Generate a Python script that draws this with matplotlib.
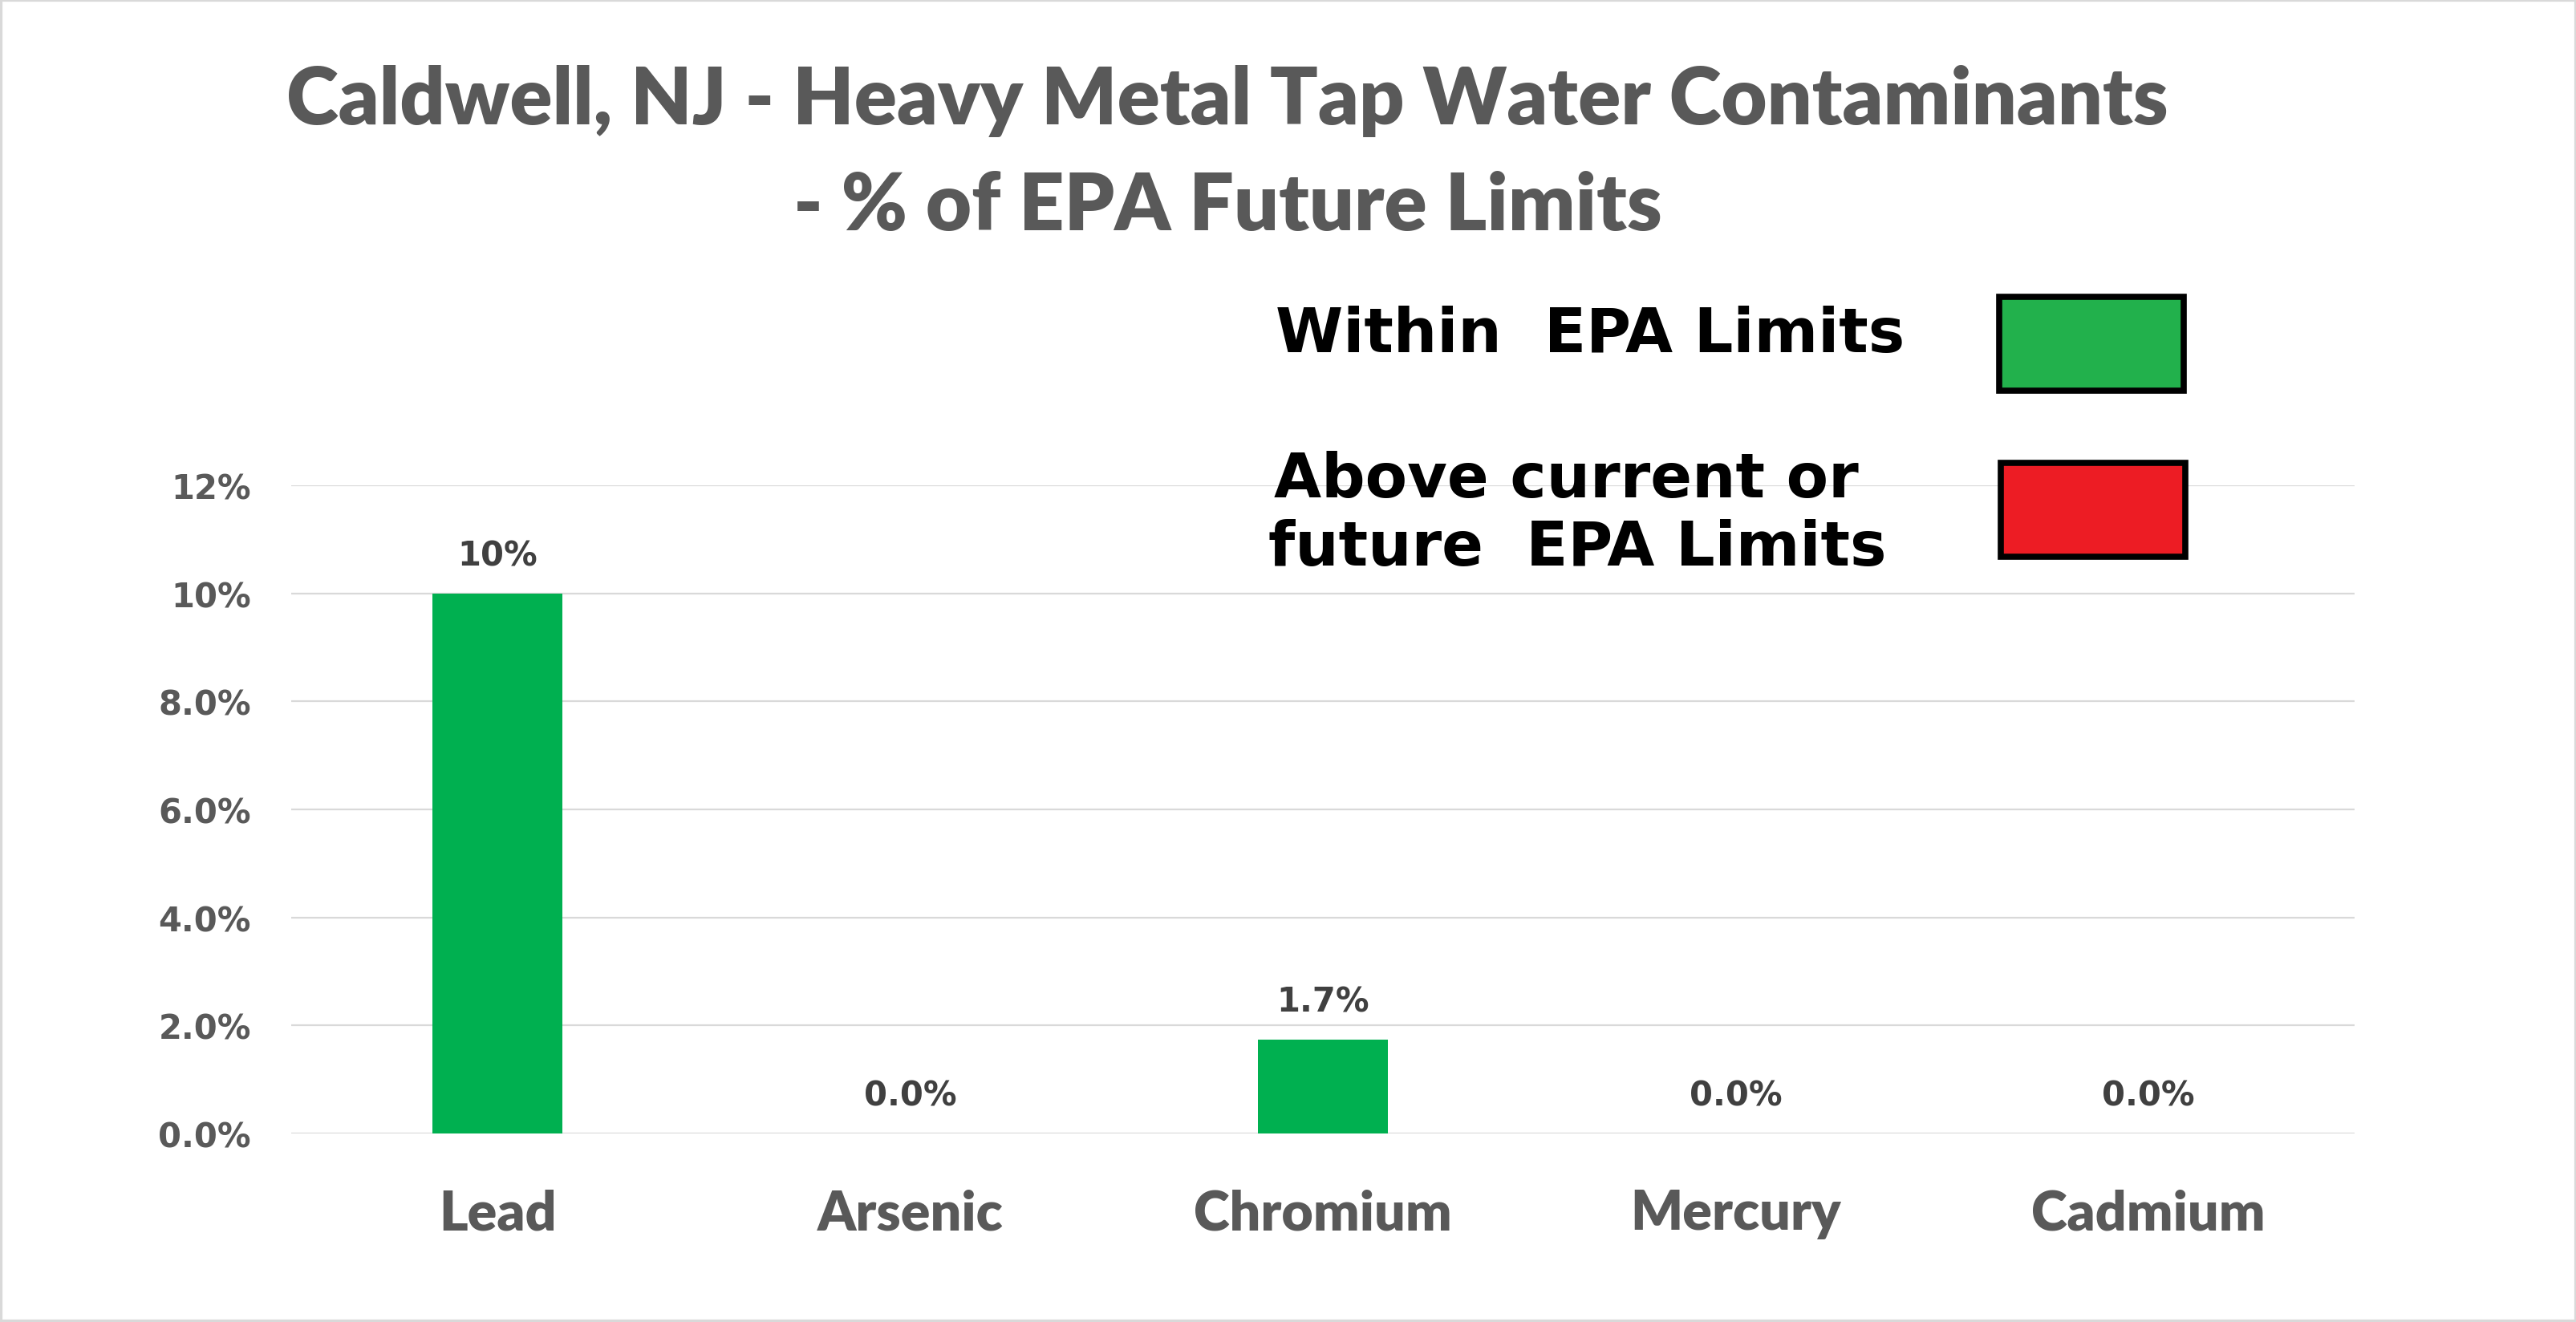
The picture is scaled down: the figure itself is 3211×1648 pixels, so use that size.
import matplotlib.pyplot as plt
from matplotlib.patches import Rectangle

# données
metals = ['Lead', 'Arsenic', 'Chromium', 'Mercury', 'Cadmium']
pct_of_limit = [0.100, 0.0, 0.0174, 0.0, 0.0]
bar_labels = ['10%', '0.0%', '1.7%', '0.0%', '0.0%']
y_ticks = [0.0, 0.02, 0.04, 0.06, 0.08, 0.10, 0.12]
y_tick_labels = ['0.0%', '2.0%', '4.0%', '6.0%', '8.0%', '10%', '12%']

W, H = 3212, 1649
fig = plt.figure(figsize=(W / 100, H / 100), dpi=100)
fig.patch.set_facecolor('white')

def fx(px):
    return px / W

def fy(py):
    return 1 - py / H

ax = fig.add_axes([fx(363), fy(1414), fx(2935) - fx(363), fy(606) - fy(1414)])

green = '#00B050'
grid_col = '#D9D9D9'
text_grey = '#595959'

ax.bar(range(len(metals)), pct_of_limit, width=0.315, color=green, zorder=3)
for i, (v, lab) in enumerate(zip(pct_of_limit, bar_labels)):
    ax.annotate(lab, (i, v), xytext=(0, 25.5), textcoords='offset points',
                ha='center', va='baseline', fontsize=30, fontweight='bold',
                family='DejaVu Sans', color='#404040', zorder=4)

ax.set_xlim(-0.5, len(metals) - 0.5)
ax.set_ylim(0, 0.12)
ax.set_yticks(y_ticks)
ax.set_yticklabels(y_tick_labels, fontsize=30, fontweight='bold',
                   family='DejaVu Sans', color=text_grey)
ax.set_xticks(range(len(metals)))
ax.set_xticklabels(metals, fontsize=49, fontweight='heavy', family='Lato',
                   color=text_grey)
ax.tick_params(axis='y', length=0, pad=36)
ax.tick_params(axis='x', length=0, pad=49)
ax.yaxis.grid(True, color=grid_col, linewidth=1.6, zorder=0)
ax.set_axisbelow(True)
for s in ax.spines.values():
    s.set_visible(False)

# titre
fig.text(fx(1530), fy(155), 'Caldwell, NJ - Heavy Metal Tap Water Contaminants',
         ha='center', va='baseline', fontsize=71, fontweight='heavy',
         family='Lato', color=text_grey)
fig.text(fx(1530), fy(287), '- % of EPA Future Limits',
         ha='center', va='baseline', fontsize=71, fontweight='heavy',
         family='Lato', color=text_grey)

# légende dessinée à la main
leg_font = dict(fontsize=55, fontweight='bold', family='DejaVu Sans',
                color='black', va='baseline', ha='left')
fig.text(fx(1590), fy(439), 'Within  EPA Limits', **leg_font)
fig.text(fx(1588), fy(620), 'Above current or', **leg_font)
fig.text(fx(1581), fy(705), 'future  EPA Limits', **leg_font)

fig.add_artist(Rectangle((fx(2492), fy(488)), fx(2722) - fx(2492), fy(371) - fy(488),
                         transform=fig.transFigure, facecolor='#22B14C',
                         edgecolor='black', linewidth=5.5))
fig.add_artist(Rectangle((fx(2494), fy(695)), fx(2724) - fx(2494), fy(578) - fy(695),
                         transform=fig.transFigure, facecolor='#ED1C24',
                         edgecolor='black', linewidth=5.5))

# cadre gris autour de l'image
fig.add_artist(Rectangle((0, 0), 1, 1, transform=fig.transFigure,
                         facecolor='none', edgecolor=grid_col, linewidth=4.5))

fig.savefig('out.png', dpi=100)
